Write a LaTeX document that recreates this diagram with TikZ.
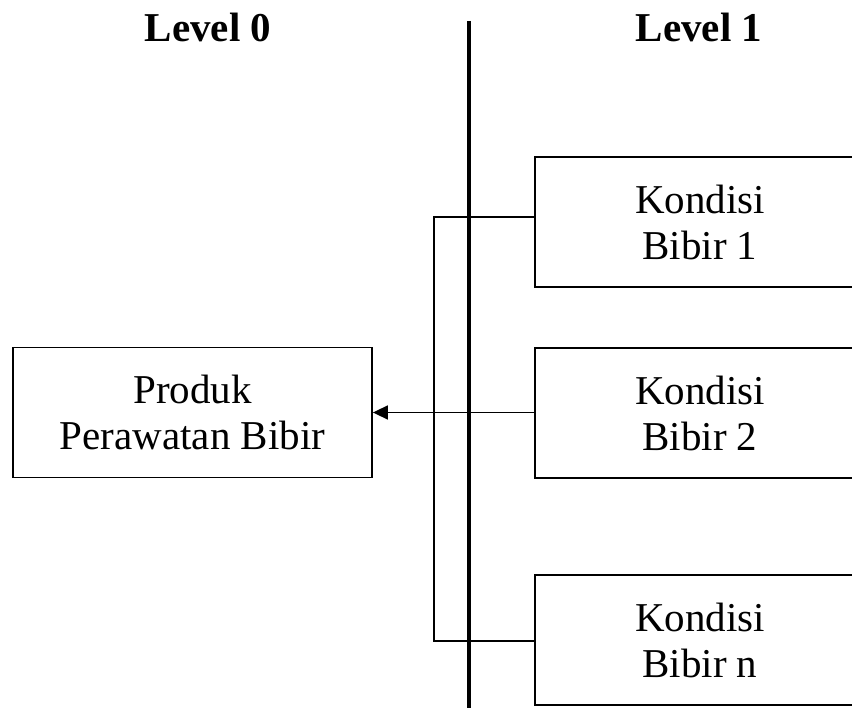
\documentclass[tikz,border=0pt]{standalone}
\usepackage{fontspec}
\setmainfont{Liberation Serif}
\usetikzlibrary{arrows.meta}
\begin{document}
\begin{tikzpicture}[x=1pt,y=-1pt,
  box/.style={draw, line width=1.8pt, align=center, inner sep=0pt,
    font=\fontsize{41}{46}\selectfont},
  title/.style={font=\fontsize{41}{45}\selectfont\bfseries},
  link/.style={line width=1.6pt},
  divider/.style={line width=4pt}]
\useasboundingbox (0,0) rectangle (852,708);
\clip (0,0) rectangle (852,708);

% column headings
\node[title] (lv0) at (208,27) {Level 0};
\node[title] (lv1) at (699,27) {Level 1};

% separator between the two levels
\coordinate (vtop) at (469,21);
\coordinate (vbot) at (469,710);
\draw[divider] (vtop) -- (vbot);

% level 0
\node[box, minimum width=359, minimum height=130] (prod) at (192.5,412.5)
  {Produk\\Perawatan Bibir};

% level 1
\node[box, minimum width=330, minimum height=130] (k1) at (700,222) {Kondisi\\Bibir 1};
\node[box, minimum width=330, minimum height=130] (k2) at (700,413) {Kondisi\\Bibir 2};
\node[box, minimum width=330, minimum height=130] (k3) at (700,640) {Kondisi\\Bibir n};

% bracket collecting the level 1 items
\coordinate (btop) at (434,217);
\coordinate (bbot) at (434,641);
\draw[link] (k1.west |- btop) -- (btop) -- (bbot) -- (k3.west |- bbot);
\draw[link, -{Triangle[length=15pt,width=14pt]}] (k2.west |- prod.east) -- (prod.east);
\end{tikzpicture}
\end{document}
